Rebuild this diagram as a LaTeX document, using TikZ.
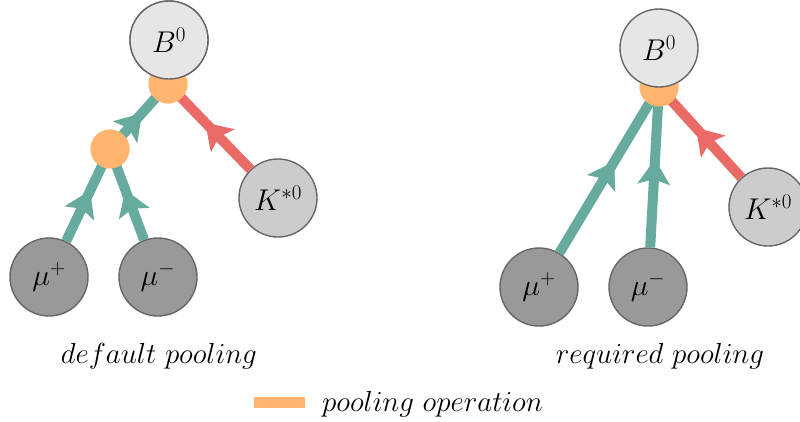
\RequirePackage{fix-cm}
\documentclass[tikz,border=0pt]{standalone}
\usetikzlibrary{arrows.meta,decorations.markings}
\definecolor{teal1}{HTML}{67AB9F}
\definecolor{red1}{HTML}{EA6B66}
\definecolor{pool}{HTML}{FFB570}
\definecolor{rim}{HTML}{666666}
\definecolor{lite}{HTML}{E6E6E6}
\definecolor{mid}{HTML}{CCCCCC}
\definecolor{dark}{HTML}{999999}
\tikzset{
  particle/.style={circle, draw=rim, line width=1.4pt, minimum size=78pt, inner sep=0pt,
    font=\fontsize{30}{35}\selectfont},
  poolnode/.style={circle, fill=pool, minimum size=39pt, inner sep=0pt},
  flow/.style={line width=10pt, postaction={decorate},
    decoration={markings, mark=at position 0.55 with {\arrow{Stealth[width=32pt,length=25pt,inset=5pt]}}}},
  tealflow/.style={flow, draw=teal1, color=teal1},
  redflow/.style={flow, draw=red1, color=red1},
  caption/.style={font=\fontsize{29}{34}\selectfont, anchor=base}
}
\begin{document}
\begin{tikzpicture}[x=1pt, y=-1pt]
\useasboundingbox (0,0) rectangle (800,421);
\clip (0,0) rectangle (800,421);

% default pooling: muons pooled first, then combined with the kaon
\node[poolnode] (lp2) at (168,84) {};
\node[poolnode] (lp1) at (110,149) {};
\node[particle, fill=lite] (lB) at (169,40) {$B^0$};
\node[particle, fill=mid] (lK) at (278,198) {$K^{*0}$};
\node[particle, fill=dark] (lmup) at (49,277) {$\mu^+$};
\node[particle, fill=dark] (lmum) at (158,277) {$\mu^-$};

\draw[tealflow] (lmup) -- (lp1.center);
\draw[tealflow] (lmum) -- (lp1.center);
\draw[tealflow] (lp1.center) -- (lp2.center);
\draw[redflow] (lK) -- (lp2.center);
\node[poolnode] at (lp1) {};
\node[poolnode] at (lp2) {};
\node[particle, fill=lite] at (lB) {$B^0$};

% required pooling: all daughters pooled at once
\node[poolnode] (rp) at (659,87) {};
\node[particle, fill=mid] (rK) at (768,207) {$K^{*0}$};
\node[particle, fill=dark] (rmup) at (539,287) {$\mu^+$};
\node[particle, fill=dark] (rmum) at (648,287) {$\mu^-$};
\draw[tealflow] (rmup) -- (rp.center);
\draw[tealflow] (rmum) -- (rp.center);
\draw[redflow] (rK) -- (rp.center);
\node[poolnode] at (rp) {};
\node[particle, fill=lite] (rB) at (659,48) {$B^0$};

% captions and legend
\node[caption] (capl) at (159,363) {$default\ pooling$};
\node[caption] (capr) at (660,363) {$required\ pooling$};
\fill[pool] (254,397) rectangle (305,408);
\node[caption, anchor=base west, inner sep=0pt] (leg) at (322,411) {$pooling\ operation$};
\end{tikzpicture}
\end{document}
